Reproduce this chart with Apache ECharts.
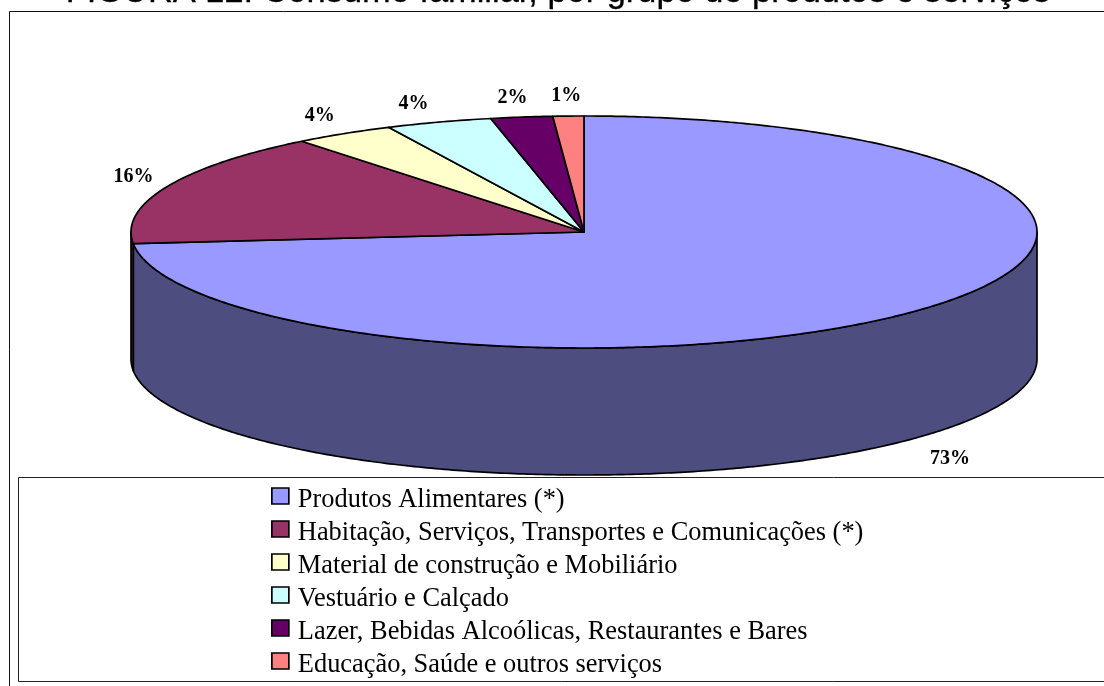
<!DOCTYPE html>
<html><head><meta charset="utf-8">
<style>html,body{margin:0;padding:0;background:#fff}#c{width:1104px;height:686px}</style>
<script src="https://cdn.jsdelivr.net/npm/echarts@6/dist/echarts.min.js"></script>
</head><body><div id="c"></div>
<script>
const titleText = 'FIGURA 12: Consumo familiar, por grupo de produtos e serviços';
const categories = [
  'Produtos Alimentares (*)',
  'Habitação, Serviços, Transportes e Comunicações (*)',
  'Material de construção e Mobiliário',
  'Vestuário e Calçado',
  'Lazer, Bebidas Alcoólicas, Restaurantes e Bares',
  'Educação, Saúde e outros serviços'
];
const values = [73.4, 15.9, 3.6, 3.8, 2.2, 1.1];
const colors = ['#9999FF', '#993366', '#FFFFCC', '#CCFFFF', '#660066', '#FF8080'];
const wallColors = ['#4D4D80', '#4D1A33', '#808066', '#668080', '#330033', '#804040'];
const labelShift = [[30, 22], [-33, -10], [-24, -18], [-25, -18], [-9, -19], [-2, -20]];

const cx = 584, cy = 232, rx = 453, ry = 116, depth = 127;
const total = values.reduce((a, b) => a + b, 0);
const starts = values.map((_, i) => values.slice(0, i).reduce((a, b) => a + b, 0));
const toAngle = v => v / total * 2 * Math.PI;
const edge = (t, dy) => [cx + rx * Math.sin(t), cy - ry * Math.cos(t) + (dy || 0)];
const arc = (a, b, dy) => {
  const n = Math.max(2, Math.ceil((b - a) / 0.01));
  const pts = [];
  for (let k = 0; k <= n; k++) pts.push(edge(a + (b - a) * k / n, dy));
  return pts;
};

function sliceRenderer(i) {
  return function (params, api) {
    const v = api.value(0);
    const a = toAngle(starts[i]), b = toAngle(starts[i] + v);
    const lw = 1.7, children = [];
    const wa = Math.max(a, Math.PI / 2), wb = Math.min(b, 3 * Math.PI / 2);
    if (wb > wa) {
      children.push({
        type: 'polygon',
        shape: { points: arc(wa, wb, 0).concat(arc(wa, wb, depth).reverse()) },
        style: { fill: wallColors[i], stroke: '#000', lineWidth: lw, lineJoin: 'round' }
      });
    }
    children.push({
      type: 'polygon',
      shape: { points: [[cx, cy]].concat(arc(a, b, 0)) },
      style: { fill: colors[i], stroke: '#000', lineWidth: lw, lineJoin: 'round' }
    });
    const mid = (a + b) / 2;
    const front = Math.cos(mid) < 0 && i === 0;
    const p = edge(mid, front ? depth : 0);
    children.push({
      type: 'text',
      style: {
        x: p[0] + labelShift[i][0], y: p[1] + labelShift[i][1],
        text: Math.round(v / total * 100) + '%',
        fill: '#000', align: 'center', verticalAlign: 'middle',
        font: 'bold 20px "Liberation Serif"'
      }
    });
    return { type: 'group', children };
  };
}

const chart = echarts.init(document.getElementById('c'), null, { renderer: 'canvas' });
chart.setOption({
  animation: false,
  backgroundColor: '#fff',
  title: {
    text: titleText, left: 558, top: -24, textAlign: 'center', padding: 0,
    textStyle: { fontFamily: '"Liberation Sans"', fontSize: 34.4, fontWeight: 'normal', color: '#000', textBorderColor: '#000', textBorderWidth: 0.3 }
  },
  legend: {
    orient: 'vertical', left: 271, top: 479, height: 300, padding: 0,
    itemWidth: 17, itemHeight: 16, itemGap: -1,
    icon: 'rect', selectedMode: false,
    data: categories,
    formatter: '{t|{name}}',
    itemStyle: { borderColor: '#000', borderWidth: 1.7 },
    textStyle: {
      rich: { t: { fontFamily: '"Liberation Serif"', fontSize: 26.4, lineHeight: 26, color: '#000', padding: [8, 0, 0, 4] } }
    }
  },
  graphic: [
    { type: 'rect', z: -1, shape: { x: 9.5, y: 11.5, width: 1300, height: 900 }, style: { fill: 'none', stroke: '#111', lineWidth: 1 } },
    { type: 'rect', z: -1, shape: { x: 18.5, y: 477.5, width: 1300, height: 204 }, style: { fill: 'none', stroke: '#222', lineWidth: 1 } }
  ],
  series: categories.map((name, i) => ({
    type: 'custom', name, coordinateSystem: 'none', silent: true, clip: false,
    itemStyle: { color: colors[i] },
    renderItem: sliceRenderer(i),
    data: [[values[i]]]
  }))
});
</script></body></html>
